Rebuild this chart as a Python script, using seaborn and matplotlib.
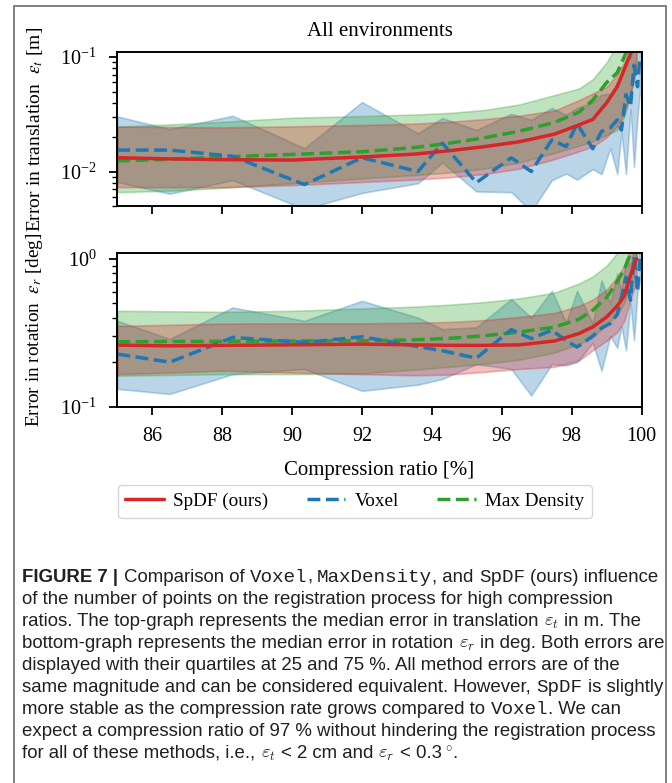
import re
import matplotlib
matplotlib.use("Agg")
import matplotlib.pyplot as plt
import seaborn as sns
import pandas as pd
from matplotlib.lines import Line2D
from matplotlib.patches import Rectangle
from matplotlib.ticker import NullFormatter

# ---------------- data ----------------
methods = ["SpDF (ours)", "Voxel", "Max Density"]

x_grid = [85.0, 86.5, 88.0, 90.0, 92.0, 93.5, 94.5, 95.5, 96.5, 97.5, 98.2, 98.6, 99.0, 99.3, 99.5, 99.7, 99.85]
x_voxel = [85.0, 86.5, 88.3, 90.35, 92.0, 93.6, 94.3, 95.27, 96.27, 96.84, 97.43, 97.84, 98.15, 98.6,
           98.85, 99.1, 99.3, 99.42, 99.55, 99.68, 99.78, 99.88, 99.95]

# translation error [m]
spdf_t_med = [0.0132, 0.0129, 0.0127, 0.0126, 0.0134, 0.0142, 0.0152, 0.0165, 0.0182, 0.0212, 0.0255, 0.0285, 0.040, 0.055, 0.078, 0.11, 0.15]
spdf_t_q75 = [0.0247, 0.0245, 0.0243, 0.0248, 0.0255, 0.0262, 0.0272, 0.0287, 0.0308, 0.0340, 0.0420, 0.0480, 0.055, 0.070, 0.090, 0.13, 0.20]
spdf_t_q25 = [0.0073, 0.0073, 0.0073, 0.0076, 0.0081, 0.0085, 0.0089, 0.0095, 0.0106, 0.0128, 0.0150, 0.0165, 0.020, 0.025, 0.032, 0.05, 0.08]

md_t_med = [0.0124, 0.0128, 0.0134, 0.0141, 0.0149, 0.0162, 0.0177, 0.0197, 0.0225, 0.0268, 0.0330, 0.0420, 0.060, 0.073, 0.100, 0.14, 0.20]
md_t_q75 = [0.0247, 0.0258, 0.0272, 0.0295, 0.0305, 0.0315, 0.0325, 0.0345, 0.0385, 0.0465, 0.053, 0.064, 0.090, 0.13, 0.17, 0.23, 0.30]
md_t_q25 = [0.0066, 0.0068, 0.0072, 0.0079, 0.0087, 0.0093, 0.0098, 0.0106, 0.0120, 0.0145, 0.0168, 0.0183, 0.021, 0.023, 0.030, 0.05, 0.08]

vox_t_med = [0.0154, 0.0154, 0.0136, 0.0077, 0.0132, 0.0100, 0.0177, 0.0080, 0.0132, 0.0100, 0.0189, 0.0165,
             0.0262, 0.0158, 0.0224, 0.0240, 0.0283, 0.0230, 0.047, 0.037, 0.085, 0.055, 0.10]
vox_t_q75 = [0.0303, 0.0235, 0.0307, 0.0160, 0.0404, 0.0216, 0.0293, 0.0231, 0.0319, 0.0283, 0.0358, 0.0313,
             0.0360, 0.0400, 0.0470, 0.048, 0.060, 0.070, 0.090, 0.10, 0.14, 0.15, 0.20]
vox_t_q25 = [0.0081, 0.0064, 0.0084, 0.0047, 0.0065, 0.0079, 0.0120, 0.0067, 0.0066, 0.0045, 0.0084, 0.0096,
             0.0085, 0.0105, 0.0095, 0.0160, 0.0095, 0.0220, 0.0095, 0.0350, 0.0110, 0.030, 0.050]

# rotation error [deg]
spdf_r_med = [0.261, 0.258, 0.260, 0.262, 0.265, 0.262, 0.260, 0.260, 0.262, 0.278, 0.312, 0.346, 0.405, 0.48, 0.56, 0.80, 1.0]
spdf_r_q75 = [0.352, 0.358, 0.365, 0.366, 0.366, 0.370, 0.374, 0.385, 0.405, 0.430, 0.480, 0.530, 0.620, 0.75, 0.90, 1.2, 1.4]
spdf_r_q25 = [0.166, 0.170, 0.175, 0.170, 0.166, 0.163, 0.165, 0.172, 0.180, 0.186, 0.205, 0.241, 0.280, 0.32, 0.38, 0.55, 0.70]

md_r_med = [0.275, 0.276, 0.277, 0.278, 0.279, 0.283, 0.290, 0.302, 0.320, 0.345, 0.390, 0.449, 0.550, 0.70, 0.85, 1.1, 1.3]
md_r_q75 = [0.445, 0.442, 0.438, 0.445, 0.462, 0.475, 0.490, 0.510, 0.540, 0.590, 0.680, 0.760, 0.900, 1.1, 1.4, 1.8, 2.0]
md_r_q25 = [0.162, 0.164, 0.166, 0.166, 0.168, 0.178, 0.186, 0.195, 0.208, 0.232, 0.265, 0.296, 0.360, 0.42, 0.50, 0.70, 0.90]

vox_r_med = [0.227, 0.200, 0.294, 0.272, 0.297, 0.255, 0.239, 0.213, 0.332, 0.289, 0.329, 0.280,
             0.253, 0.300, 0.340, 0.366, 0.420, 0.550, 0.750, 0.524, 1.03, 0.60, 1.0]
vox_r_q75 = [0.381, 0.287, 0.469, 0.381, 0.520, 0.400, 0.335, 0.344, 0.534, 0.400, 0.607, 0.370,
             0.606, 0.365, 0.716, 0.500, 0.800, 0.600, 1.000, 0.900, 1.20, 1.00, 1.30]
vox_r_q25 = [0.132, 0.122, 0.166, 0.180, 0.128, 0.141, 0.154, 0.194, 0.180, 0.119, 0.194, 0.190,
             0.200, 0.270, 0.175, 0.300, 0.250, 0.350, 0.240, 0.500, 0.280, 0.600, 0.700]

xticks = [86, 88, 90, 92, 94, 96, 98, 100]

# caption: **bold**, `mono`, $math$
caption_lines = [
    "**FIGURE 7 |** Comparison of `Voxel`, `MaxDensity`, and `SpDF` (ours) influence",
    "of the number of points on the registration process for high compression",
    r"ratios. The top-graph represents the median error in translation $\varepsilon_t$ in m. The",
    r"bottom-graph represents the median error in rotation $\varepsilon_r$ in deg. Both errors are",
    "displayed with their quartiles at 25 and 75 %. All method errors are of the",
    "same magnitude and can be considered equivalent. However, `SpDF` is slightly",
    "more stable as the compression rate grows compared to `Voxel`. We can",
    "expect a compression ratio of 97 % without hindering the registration process",
    r"for all of these methods, i.e., $\varepsilon_t$ < 2 cm and $\varepsilon_r$ < 0.3$^\circ$.",
]

# ---------------- style ----------------
sns.set_theme(style="ticks")
plt.rcParams["font.family"] = ["Liberation Serif", "DejaVu Serif"]
plt.rcParams.update({
    "mathtext.fontset": "stix",
    "axes.edgecolor": "black",
    "axes.linewidth": 1.4,
    "xtick.color": "black",
    "ytick.color": "black",
    "text.color": "black",
    "axes.labelcolor": "black",
})

colors = {"SpDF (ours)": "#d62728", "Voxel": "#1f77b4", "Max Density": "#2ca02c"}
styles = {"SpDF (ours)": "-", "Voxel": "--", "Max Density": "--"}

W, H = 672, 783
fig = plt.figure(figsize=(W / 100, H / 100), dpi=100)

def frac_rect(left, top, right, bottom):
    return [left / W, 1 - bottom / H, (right - left) / W, (bottom - top) / H]

ax1 = fig.add_axes(frac_rect(117.3, 52.3, 641.7, 206.0))
ax2 = fig.add_axes(frac_rect(117.3, 252.7, 641.7, 406.7), sharex=ax1)

def panel(ax, data):
    for name in ["Voxel", "Max Density", "SpDF (ours)"]:
        x, med, q25, q75 = data[name]
        ax.fill_between(x, q25, q75, color=colors[name], alpha=0.3,
                        edgecolor=colors[name], linewidth=1.2)
    for name in ["Max Density", "Voxel", "SpDF (ours)"]:
        x, med, q25, q75 = data[name]
        df = pd.DataFrame({"x": x, "y": med})
        sns.lineplot(data=df, x="x", y="y", ax=ax, color=colors[name],
                     linestyle=styles[name], linewidth=2.5, estimator=None, sort=False)
    ax.set_yscale("log")
    ax.set_xlabel("")
    ax.set_ylabel("")
    ax.set_xlim(85, 100)
    for s in ax.spines.values():
        s.set_visible(True)
        s.set_color("black")
        s.set_linewidth(1.4)
    ax.tick_params(axis="both", which="major", direction="out", length=6, width=1.3,
                   labelsize=14.5, bottom=True, left=True, top=False, right=False)
    ax.tick_params(axis="y", which="minor", direction="out", length=3.5, width=1.0, left=True)
    ax.tick_params(axis="x", which="minor", bottom=False)
    ax.tick_params(axis="y", which="major", pad=9)
    ax.yaxis.set_minor_formatter(NullFormatter())
    ax.grid(False)

panel(ax1, {
    "SpDF (ours)": (x_grid, spdf_t_med, spdf_t_q25, spdf_t_q75),
    "Voxel": (x_voxel, vox_t_med, vox_t_q25, vox_t_q75),
    "Max Density": (x_grid, md_t_med, md_t_q25, md_t_q75),
})
panel(ax2, {
    "SpDF (ours)": (x_grid, spdf_r_med, spdf_r_q25, spdf_r_q75),
    "Voxel": (x_voxel, vox_r_med, vox_r_q25, vox_r_q75),
    "Max Density": (x_grid, md_r_med, md_r_q25, md_r_q75),
})
ax1.set_ylim(0.005, 0.11)
ax2.set_ylim(0.1, 1.1)
ax1.set_xticks(xticks)
ax1.tick_params(axis="x", labelbottom=False)
ax2.set_xticks(xticks)
ax2.set_xticklabels([str(t) for t in xticks])
ax2.tick_params(axis="x", which="major", pad=8.5)
ax1.set_xlim(85, 100)

ax2.set_xlabel("Compression ratio [%]", fontsize=15, labelpad=11)

fig.text(379.5 / W, 1 - 31 / H, "All environments", ha="center", va="center", fontsize=15)
fig.text(35 / W, 1 - 129 / H, r"Error in translation  $\varepsilon_t$ [m]", rotation=90,
         ha="center", va="center", fontsize=14.0)
fig.text(35 / W, 1 - 330 / H, r"Error in rotation  $\varepsilon_r$ [deg]", rotation=90,
         ha="center", va="center", fontsize=13.8)

handles = [Line2D([0], [0], color=colors[m], linestyle=styles[m], linewidth=2.5) for m in methods]
fig.legend(handles, methods, loc="center", bbox_to_anchor=(355 / W, 1 - 501.5 / H), ncol=3,
           fontsize=13.8, handlelength=2.0, handletextpad=0.5, columnspacing=2.0,
           frameon=True, fancybox=True, edgecolor="0.8", framealpha=0.8, borderpad=0.4)

# ---------------- caption (mixed fonts placed piece by piece) ----------------
renderer = fig.canvas.get_renderer()
cap_color = "#231f20"
SANS = dict(family=["Liberation Sans", "DejaVu Sans"], fontsize=13.4)
kinds = {
    "sans": dict(SANS),
    "bold": dict(SANS, weight="bold"),
    "mono": dict(family=["Liberation Mono", "DejaVu Sans Mono"], fontsize=13.9),
    "math": dict(SANS, math_fontfamily="cm"),
}

def width_of(s, kind):
    t = fig.text(0, 0, s, **kinds[kind])
    w = t.get_window_extent(renderer=renderer).width
    t.remove()
    return w

space_w = width_of("a a", "sans") - width_of("aa", "sans")

def tokens(line):
    out = []
    for part in re.split(r"(\*\*.*?\*\*|`.*?`|\$.*?\$)", line):
        if not part:
            continue
        if part.startswith("**"):
            out.append((part[2:-2], "bold"))
        elif part.startswith("`"):
            out.append((part[1:-1], "mono"))
        elif part.startswith("$"):
            out.append((part, "math"))
        else:
            out.append((part, "sans"))
    return out

x0 = 22.5
for i, line in enumerate(caption_lines):
    ybase = 1 - (581.5 + 22.0 * i) / H
    x = x0
    for s, kind in tokens(line):
        lead = len(s) - len(s.lstrip(" "))
        trail = len(s) - len(s.rstrip(" "))
        core = s.strip(" ")
        x += lead * space_w
        if core:
            t = fig.text(x / W, ybase, core, ha="left", va="baseline", color=cap_color, **kinds[kind])
            x += t.get_window_extent(renderer=renderer).width
        x += trail * space_w

# figure frame
fig.patches.append(Rectangle((14 / W, -0.02), (666 - 14) / W, 1.02 - 6 / H,
                             transform=fig.transFigure, fill=False, edgecolor="#808080",
                             linewidth=1.4, zorder=10))

fig.savefig("out.png", dpi=100)
